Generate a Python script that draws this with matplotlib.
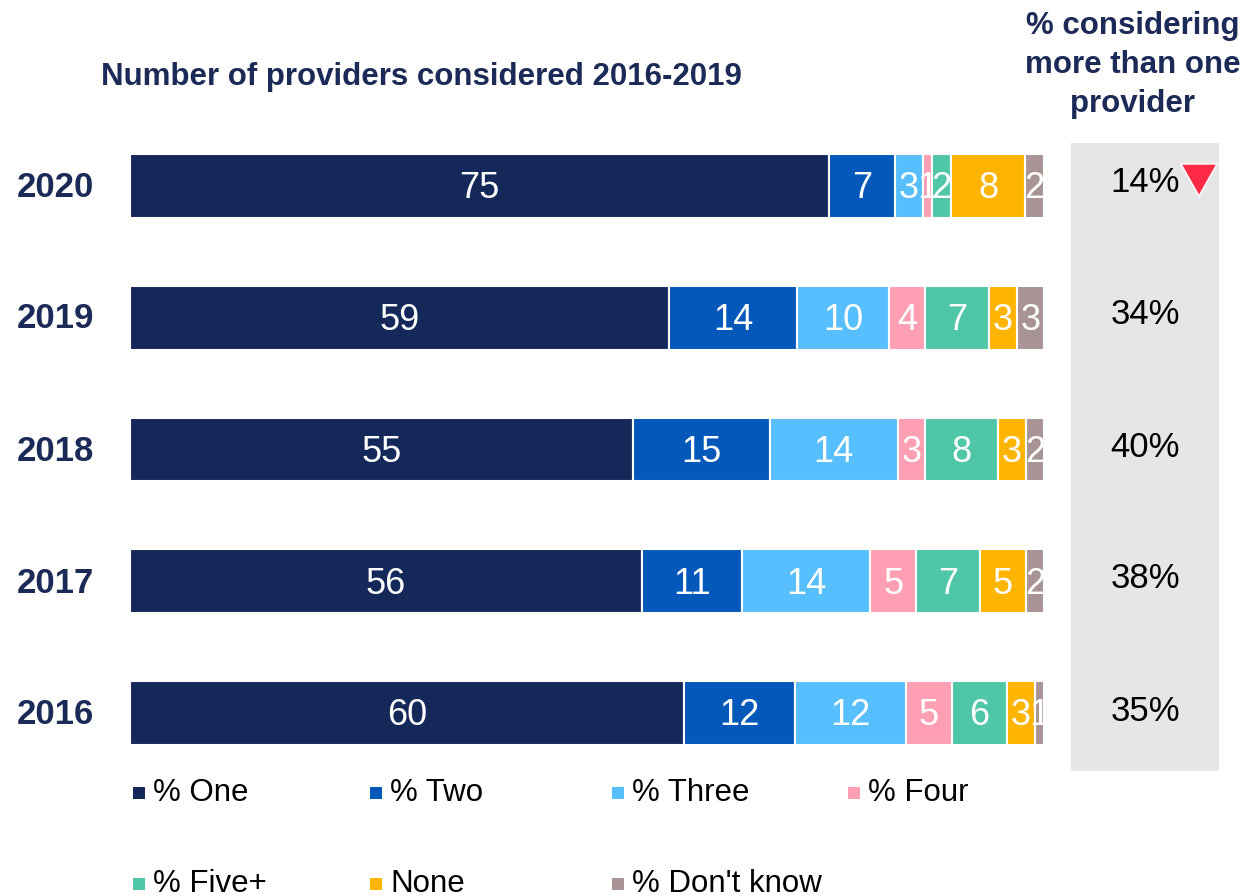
import matplotlib
matplotlib.use("Agg")
import matplotlib.pyplot as plt
from matplotlib.patches import Rectangle, Polygon
import numpy as np

plt.rcParams['font.family'] = ['Liberation Sans', 'DejaVu Sans']

years = ["2016", "2017", "2018", "2019", "2020"]
series = ["% One", "% Two", "% Three", "% Four", "% Five+", "None", "% Don't know"]
one = [60, 56, 55, 59, 75]
two = [12, 11, 15, 14, 7]
three = [12, 14, 14, 10, 3]
four = [5, 5, 3, 4, 1]
five = [6, 7, 8, 7, 2]
none = [3, 5, 3, 3, 8]
dont_know = [1, 2, 2, 3, 2]
more_than_one = ["35%", "38%", "40%", "34%", "14%"]
colors = ["#14285A", "#0458BA", "#57BFFD", "#FE9FB4", "#50C6A8", "#FFB400", "#A89494"]

navy = "#1B2A57"
W, H = 1244, 896
fig = plt.figure(figsize=(W / 100, H / 100), dpi=100)

def fx(px):
    return px / W

def fy(py):
    return 1 - py / H

ax = fig.add_axes([fx(130), fy(779), fx(1044) - fx(130), (779 - 120) / H])
data = np.array([one, two, three, four, five, none, dont_know], dtype=float)
totals = data.sum(axis=0)
ypos = np.arange(len(years))
left = np.zeros(len(years))
for i, name in enumerate(series):
    widths = data[i] / totals * 100
    ax.barh(ypos, widths, left=left, height=0.485, color=colors[i],
            edgecolor="white", linewidth=1.5)
    for j in range(len(years)):
        ax.text(left[j] + widths[j] / 2, ypos[j] - 0.022, f"{int(data[i][j])}",
                ha="center", va="center", color="white", fontsize=26)
    left += widths
ax.set_xlim(0, 100)
ax.set_ylim(-0.5, 4.5)
ax.axis("off")

for j, yr in enumerate(years):
    yc = 713 - 132 * j
    fig.text(fx(55), fy(yc + 2), yr, ha="center", va="center", fontsize=25,
             fontweight="bold", color=navy)
    fig.text(fx(1145), fy(yc - 2), more_than_one[j], ha="center", va="center",
             fontsize=25, color="black", zorder=5)

# grey panel
fig.patches.append(Rectangle((fx(1071), fy(771)), fx(1219) - fx(1071), (771 - 143) / H,
                             transform=fig.transFigure, facecolor="#E6E6E6",
                             edgecolor="none", zorder=0))
# red triangle
fig.patches.append(Polygon([(fx(1181), fy(164)), (fx(1217), fy(164)), (fx(1199), fy(196))],
                           closed=True, transform=fig.transFigure, facecolor="#FF2A45",
                           edgecolor="white", linewidth=1, zorder=6))

fig.text(fx(421), fy(77), "Number of providers considered 2016-2019", ha="center",
         va="center", fontsize=22.5, fontweight="bold", color=navy)
fig.text(fx(1133), fy(65), "% considering\nmore than one\nprovider", ha="center",
         va="center", fontsize=22.5, fontweight="bold", color=navy, linespacing=1.4)

# legend
leg_x = [133, 370, 612, 848]
leg_rows = [792, 883]
for k, name in enumerate(series):
    r, c = divmod(k, 4)
    x0 = leg_x[c]
    y0 = leg_rows[r]
    fig.patches.append(Rectangle((fx(x0), fy(y0 + 7)), 12 / W, 12 / H,
                                 transform=fig.transFigure, facecolor=colors[k],
                                 edgecolor="none"))
    fig.text(fx(x0 + 20), fy(y0 + 1), name, ha="left", va="center", fontsize=22.5,
             color="black")

fig.savefig("out.png", dpi=100)
